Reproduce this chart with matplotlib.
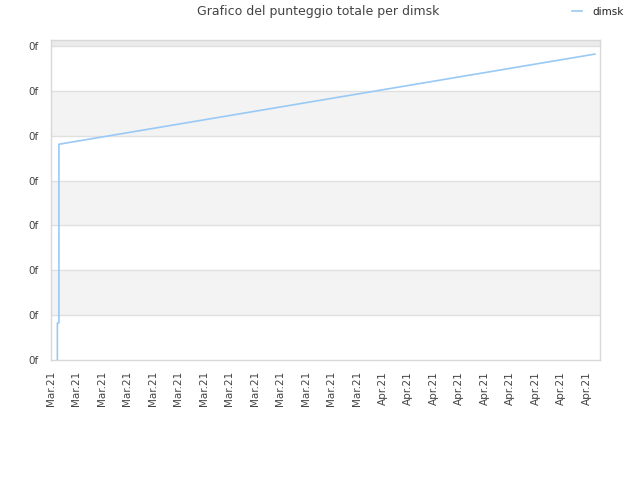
import matplotlib
matplotlib.use("Agg")
import matplotlib.pyplot as plt

# Data (x in tick units, y in score units)
series_name = "dimsk"
x_vals = [0.25, 0.25, 0.31, 0.31, 21.33]
y_vals = [0.0, 0.825, 0.825, 4.81, 6.82]
x_tick_labels = ["Mar.21"] * 13 + ["Apr.21"] * 9
y_tick_values = [0, 1, 2, 3, 4, 5, 6, 7]
y_tick_labels = ["0f"] * 8
title = "Grafico del punteggio totale per dimsk"

fig = plt.figure(figsize=(6.4, 4.8), dpi=100)
ax = fig.add_axes([51 / 640, 120 / 480, 549 / 640, 320 / 480])

ymax = 7.134
xmax = 21.53
ax.set_xlim(0, xmax)
ax.set_ylim(0, ymax)

# alternating bands
for i in range(7):
    if i % 2 == 1:
        ax.axhspan(i, i + 1, color="#f3f3f3", zorder=0, lw=0)
ax.axhspan(7, ymax, color="#ebebeb", zorder=0, lw=0)
for v in y_tick_values[1:]:
    ax.axhline(v, color="#e0e0e0", lw=1, zorder=1)

ax.plot(x_vals, y_vals, color="#99c9f5", lw=1.2, zorder=3, label=series_name)

ax.set_xticks(range(len(x_tick_labels)))
ax.set_xticklabels(x_tick_labels, rotation=90, fontsize=7.5, color="#444444")
ax.set_yticks(y_tick_values)
ax.set_yticklabels(y_tick_labels, fontsize=7.5, color="#444444")
ax.tick_params(axis="both", length=0)
ax.tick_params(axis="x", pad=8)
ax.tick_params(axis="y", pad=9)

for s in ax.spines.values():
    s.set_color("#d8d8d8")
    s.set_linewidth(1)

fig.text(318 / 640, 1 - 12 / 480, title, ha="center", va="center",
         fontsize=9, color="#444444")

leg = fig.legend(loc="center left", bbox_to_anchor=(572 / 640, 1 - 12 / 480),
                 frameon=False, fontsize=7.5, handlelength=1.0, handletextpad=1.0,
                 borderpad=0, borderaxespad=0)
for t in leg.get_texts():
    t.set_color("#222222")

fig.savefig("out.png", dpi=100)
